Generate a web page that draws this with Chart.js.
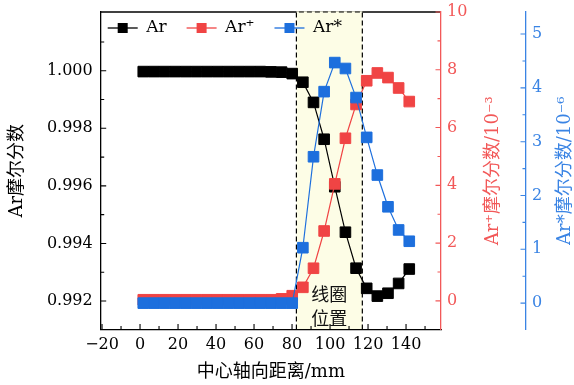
<!DOCTYPE html>
<html><head><meta charset="utf-8">
<script src="https://cdn.jsdelivr.net/npm/chart.js@4.4.1/dist/chart.umd.min.js"></script>
<style>html,body{margin:0;padding:0;background:#fff}#c{display:block}</style>
</head><body>
<canvas id="c" width="574" height="385"></canvas>
<script>
// ---- data ----
const positions = [1.7, 7.3, 12.9, 18.5, 24.1, 29.7, 35.3, 40.9, 46.5, 52.1, 57.7, 63.3, 68.9, 74.5, 80.1, 85.7, 91.3, 96.9, 102.5, 108.1, 113.7, 119.3, 124.9, 130.5, 136.1, 141.7];
const arFraction = [0.99997, 0.99997, 0.99997, 0.99997, 0.99997, 0.99997, 0.99997, 0.99997, 0.99997, 0.99997, 0.99997, 0.99997, 0.99996, 0.99995, 0.99990, 0.99960, 0.99890, 0.99762, 0.99597, 0.99439, 0.99314, 0.99244, 0.99217, 0.99227, 0.99261, 0.99311];
const arIonFraction = [0.04, 0.04, 0.04, 0.04, 0.04, 0.04, 0.04, 0.04, 0.04, 0.04, 0.04, 0.04, 0.04, 0.07, 0.18, 0.47, 1.13, 2.42, 4.05, 5.63, 6.80, 7.62, 7.89, 7.73, 7.37, 6.90];
const arExcitedFraction = [0, 0, 0, 0, 0, 0, 0, 0, 0, 0, 0, 0, 0, 0, 0, 1.03, 2.72, 3.93, 4.47, 4.36, 3.82, 3.08, 2.38, 1.79, 1.36, 1.15];
const seriesNames = ['Ar', 'Ar\u207A', 'Ar*'];
const xTickValues = [-20, 0, 20, 40, 60, 80, 100, 120, 140];
const leftTickValues = [0.992, 0.994, 0.996, 0.998, 1.000];
const ionTickValues = [0, 2, 4, 6, 8, 10];
const excitedTickValues = [0, 1, 2, 3, 4, 5];
const coilRange = [82.3, 117.0];
const coilLabel = ['线圈', '位置'];
const xTitle = '中心轴向距离/mm';
const leftTitle = 'Ar摩尔分数';
const ionTitle = 'Ar\u207A摩尔分数/10\u207B\u00B3';
const excitedTitle = 'Ar*摩尔分数/10\u207B\u2076';

// ---- styling ----
const BLACK = '#000000', RED = '#f04444', BLUE = '#1d6fdd';
const RED_AX = '#f25858', BLUE_AX = '#3a84e4';
const FAM = "'DejaVu Serif', 'Noto Sans CJK SC', serif";
Chart.defaults.font.family = FAM;
Chart.defaults.color = '#000';

function mk(values, i, color, axis, order) {
  return {
    label: seriesNames[i],
    data: positions.map((x, k) => ({x: x, y: values[k]})),
    yAxisID: axis, order: order,
    borderColor: color, backgroundColor: color,
    borderWidth: 1.2, pointStyle: 'rect', pointRadius: 7.5, pointBorderWidth: 1,
    pointBackgroundColor: color, pointBorderColor: color, tension: 0
  };
}

function setTicks(vals) { return s => { s.ticks = vals.map(v => ({value: v})); }; }
function fitVertical(w) { return s => { s.width = w; s.paddingTop = 0; s.paddingBottom = 0; }; }

const framePlugin = {
  id: 'frame',
  beforeDraw(chart) {
    const {ctx, chartArea: a, scales} = chart;
    ctx.save();
    ctx.strokeStyle = '#000'; ctx.lineWidth = 1.3;
    ctx.beginPath(); ctx.moveTo(a.left, a.top); ctx.lineTo(a.right, a.top); ctx.stroke();
    const x0 = scales.x.getPixelForValue(coilRange[0]);
    const x1 = scales.x.getPixelForValue(coilRange[1]);
    ctx.fillStyle = '#fdfde6';
    ctx.fillRect(x0, a.top - 0.7, x1 - x0, a.bottom - a.top + 0.7);
    ctx.setLineDash([5, 3]); ctx.lineWidth = 1.2; ctx.strokeStyle = '#000';
    ctx.beginPath();
    ctx.moveTo(x0, a.bottom); ctx.lineTo(x0, a.top); ctx.lineTo(x1, a.top); ctx.lineTo(x1, a.bottom);
    ctx.stroke();
    ctx.setLineDash([]);
    ctx.fillStyle = '#111';
    ctx.font = "18px 'Noto Sans CJK SC'";
    ctx.textAlign = 'center'; ctx.textBaseline = 'middle';
    const cx = (x0 + x1) / 2;
    ctx.fillText(coilLabel[0], cx, a.bottom - 35);
    ctx.fillText(coilLabel[1], cx, a.bottom - 11.5);
    // legend, in dataset order, inside the plot area
    ctx.font = '17px ' + FAM;
    ctx.textAlign = 'left';
    let lx = a.left + 7;
    const ly = a.top + 16;
    chart.data.datasets.forEach(ds => {
      const col = ds.borderColor;
      ctx.strokeStyle = col; ctx.lineWidth = 1.3;
      ctx.beginPath(); ctx.moveTo(lx, ly); ctx.lineTo(lx + 30, ly); ctx.stroke();
      ctx.fillStyle = col; ctx.fillRect(lx + 10, ly - 5, 10, 10);
      ctx.fillStyle = '#000';
      ctx.fillText(ds.label, lx + 38.5, ly);
      lx += 38.5 + ctx.measureText(ds.label).width + 20;
    });
    ctx.restore();
  },
  afterDraw(chart) {
    const {ctx, chartArea: a, scales} = chart;
    function ticksOf(s) {
      const majors = s.ticks.map(t => t.value);
      const step = majors[1] - majors[0];
      const minors = [];
      for (let v = majors[0] - step / 2; v < s.max - 1e-9; v += step) {
        if (v > s.min + 1e-9) minors.push(v);
      }
      return {majors, minors};
    }
    function draw(s, color, fn) {
      const t = ticksOf(s);
      ctx.save(); ctx.strokeStyle = color; ctx.lineWidth = 1.1;
      ctx.beginPath();
      t.majors.forEach(v => fn(s.getPixelForValue(v), 5.5));
      t.minors.forEach(v => fn(s.getPixelForValue(v), 3.5));
      ctx.stroke(); ctx.restore();
    }
    draw(scales.x, '#000', (p, l) => { ctx.moveTo(p, a.bottom); ctx.lineTo(p, a.bottom - l); });
    draw(scales.y, '#000', (p, l) => { ctx.moveTo(a.left, p); ctx.lineTo(a.left + l, p); });
    draw(scales.yR, RED_AX, (p, l) => { ctx.moveTo(a.right, p); ctx.lineTo(a.right - l, p); });
    const bl = scales.yB.left;
    draw(scales.yB, BLUE_AX, (p, l) => { ctx.moveTo(bl, p); ctx.lineTo(bl - l, p); });
    // right-hand axis titles, reading bottom to top
    const cy = (a.top + a.bottom) / 2;
    [[ionTitle, RED_AX, scales.yR.right - 33], [excitedTitle, BLUE_AX, scales.yB.right - 9]].forEach(([txt, col, tx]) => {
      ctx.save();
      ctx.translate(tx, cy); ctx.rotate(-Math.PI / 2);
      ctx.font = '18px ' + FAM; ctx.fillStyle = col;
      ctx.textAlign = 'center'; ctx.textBaseline = 'middle';
      ctx.fillText(txt, 0, 0);
      ctx.restore();
    });
  }
};

new Chart(document.getElementById('c'), {
  type: 'line',
  data: {
    datasets: [
      mk(arFraction, 0, BLACK, 'y', 3),
      mk(arIonFraction, 1, RED, 'yR', 2),
      mk(arExcitedFraction, 2, BLUE, 'yB', 1)
    ]
  },
  options: {
    responsive: false, animation: false, devicePixelRatio: 1,
    layout: {padding: {top: 12, left: 0, right: 0, bottom: 0}},
    plugins: {
      tooltip: {enabled: false},
      legend: {display: false}
    },
    scales: {
      x: {
        type: 'linear', position: 'bottom', min: -20.7, max: 158.4,
        afterBuildTicks: setTicks(xTickValues),
        afterFit: s => { s.height = 55.5; s.paddingLeft = 0; s.paddingRight = 0; },
        grid: {display: false, drawTicks: false},
        border: {display: true, color: '#000', width: 1.3},
        ticks: {autoSkip: false, maxRotation: 0, padding: 6, font: {size: 16},
          callback: v => (v < 0 ? '\u2212' + Math.abs(v) : String(v))},
        title: {display: true, text: xTitle, font: {size: 18}, padding: {top: 0, bottom: 2}}
      },
      y: {
        type: 'linear', position: 'left', min: 0.99101, max: 1.00204,
        afterBuildTicks: setTicks(leftTickValues),
        afterFit: fitVertical(100.7),
        grid: {display: false, drawTicks: false},
        border: {display: true, color: '#000', width: 1.3},
        ticks: {autoSkip: false, padding: 8, font: {size: 16}, callback: v => v.toFixed(3)},
        title: {display: true, text: leftTitle, font: {size: 18}, padding: {top: 7, bottom: 0}}
      },
      yR: {
        type: 'linear', position: 'right', weight: 1, min: -0.99, max: 10.0,
        afterBuildTicks: setTicks(ionTickValues),
        afterFit: fitVertical(85),
        grid: {display: false, drawTicks: false},
        border: {display: true, color: RED_AX, width: 1.3},
        ticks: {autoSkip: false, padding: 6, color: RED_AX, font: {size: 16}, callback: v => String(v)}
      },
      yB: {
        type: 'linear', position: 'right', weight: 2, min: -0.49, max: 5.41,
        afterBuildTicks: setTicks(excitedTickValues),
        afterFit: fitVertical(48),
        grid: {display: false, drawTicks: false},
        border: {display: true, color: BLUE_AX, width: 1.3},
        ticks: {autoSkip: false, padding: 6, color: BLUE_AX, font: {size: 16}, callback: v => String(v)}
      }
    }
  },
  plugins: [framePlugin]
});
</script>
</body></html>
